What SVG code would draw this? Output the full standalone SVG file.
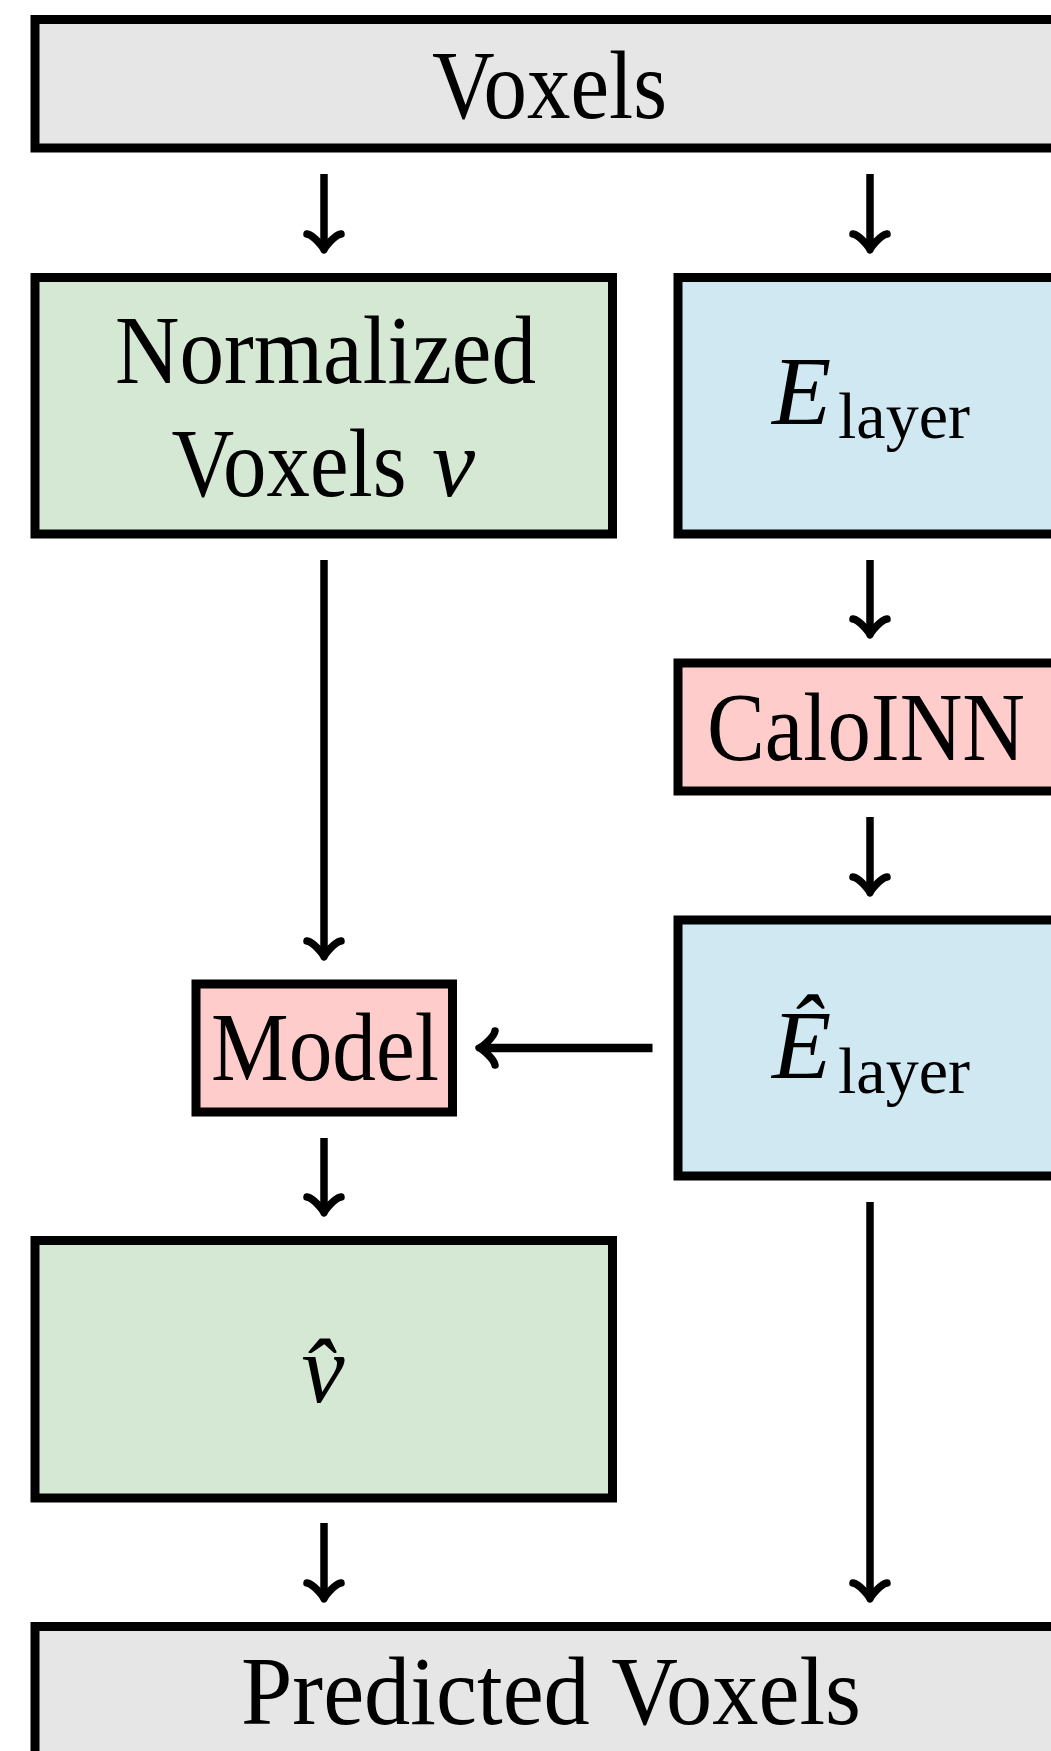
<svg xmlns="http://www.w3.org/2000/svg" width="1051" height="1751" viewBox="0 0 1051 1751">
<defs>
<style>
.box{stroke:#000;stroke-width:9;}
.gray{fill:#e6e6e6;}
.green{fill:#d5e8d4;}
.blue{fill:#d0e8f2;}
.pink{fill:#ffcccc;}
.t{font-family:"Liberation Serif","Times New Roman",serif;font-size:97px;fill:#000;text-anchor:middle;}
.it{font-style:italic;}
.sub{font-style:normal;font-size:66px;}
.line{stroke:#000;stroke-width:7.5;fill:none;}
.head{stroke:#000;stroke-width:7.5;fill:none;stroke-linecap:round;stroke-linejoin:round;}
</style>
<path id="ahd" d="M-17,-16 C-10.75,-15 -1,-3.2 0,0 C1,-3.2 10.75,-15 17,-16"/>
</defs>
<rect width="1051" height="1751" fill="#fff"/>

<g id="connectors">
<line class="line" x1="324" y1="174" x2="324" y2="248"/>
<use href="#ahd" class="head" transform="translate(324,250)"/>
<line class="line" x1="870" y1="174" x2="870" y2="248"/>
<use href="#ahd" class="head" transform="translate(870,250)"/>
<line class="line" x1="324" y1="560" x2="324" y2="955"/>
<use href="#ahd" class="head" transform="translate(324,957)"/>
<line class="line" x1="870" y1="560" x2="870" y2="633"/>
<use href="#ahd" class="head" transform="translate(870,635)"/>
<line class="line" x1="870" y1="817" x2="870" y2="891"/>
<use href="#ahd" class="head" transform="translate(870,893)"/>
<line class="line" x1="652.5" y1="1048" x2="481" y2="1048" style="stroke-width:8.5"/>
<use href="#ahd" class="head" transform="translate(479,1048) rotate(90)"/>
<line class="line" x1="324" y1="1138" x2="324" y2="1211"/>
<use href="#ahd" class="head" transform="translate(324,1213)"/>
<line class="line" x1="324" y1="1523" x2="324" y2="1597"/>
<use href="#ahd" class="head" transform="translate(324,1599)"/>
<line class="line" x1="870" y1="1202" x2="870" y2="1597"/>
<use href="#ahd" class="head" transform="translate(870,1599)"/>
</g>

<g id="voxels">
<rect class="box gray" x="35" y="19.5" width="1030" height="128.5"/>
<text class="t" x="549.5" y="118" textLength="235" lengthAdjust="spacingAndGlyphs">Voxels</text>
</g>

<g id="normalized">
<rect class="box green" x="35" y="277.5" width="577.5" height="256.5"/>
<text class="t" x="325.5" y="383" textLength="421" lengthAdjust="spacingAndGlyphs">Normalized</text>
<text class="t" x="289" y="496" textLength="235" lengthAdjust="spacingAndGlyphs">Voxels</text>
<text class="t it" x="432" y="496" style="text-anchor:start">v</text>
</g>

<g id="elayer">
<rect class="box blue" x="678" y="277.5" width="387" height="256.5"/>
<text class="t it" x="772" y="424" style="text-anchor:start">E<tspan class="sub" x="838" dy="14">layer</tspan></text>
</g>

<g id="caloinn">
<rect class="box pink" x="678" y="663" width="387" height="128"/>
<text class="t" x="866" y="760" textLength="318" lengthAdjust="spacingAndGlyphs">CaloINN</text>
</g>

<g id="elayerhat">
<rect class="box blue" x="678" y="920" width="387" height="256"/>
<text class="t it" x="772" y="1078" style="text-anchor:start">Ê<tspan class="sub" x="838" dy="15">layer</tspan></text>
</g>

<g id="model">
<rect class="box pink" x="196" y="984" width="256.5" height="128"/>
<text class="t" x="325" y="1080" textLength="228" lengthAdjust="spacingAndGlyphs">Model</text>
</g>

<g id="vhat">
<rect class="box green" x="35" y="1240.5" width="577.5" height="257.5"/>
<text class="t it" x="323" y="1402">v̂</text>
</g>

<g id="predicted">
<rect class="box gray" x="35" y="1626.5" width="1030" height="200"/>
<text class="t" x="551" y="1723.6" textLength="620" lengthAdjust="spacingAndGlyphs">Predicted Voxels</text>
</g>
</svg>
